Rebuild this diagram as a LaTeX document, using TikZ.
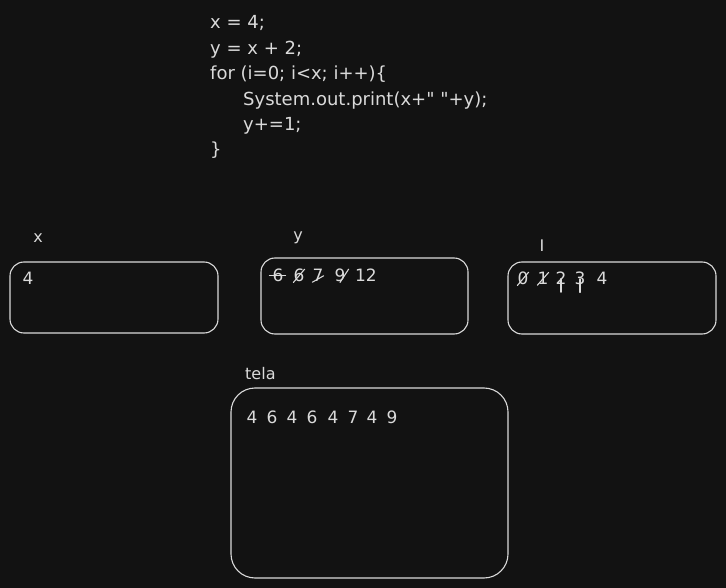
\documentclass[tikz,border=0pt]{standalone}
\usepackage{fontspec}
\newfontfamily\codefont{DejaVu Sans}
\usetikzlibrary{positioning}
\definecolor{bg}{HTML}{121212}
\definecolor{ink}{HTML}{DADADA}
\tikzset{
  box/.style={draw=ink, line width=1.1pt, rounded corners=14pt, inner sep=0pt},
  txt/.style={text=ink, font=\codefont\fontsize{16}{25.3}\selectfont, inner sep=0pt},
  digit/.style={txt, font=\codefont\fontsize{17}{22}\selectfont, anchor=base},
  cross/.style={draw=ink, line width=1.1pt, line cap=round}
}
\begin{document}
\begin{tikzpicture}[x=1pt, y=-1pt]
\fill[bg] (0,0) rectangle (726,588);
\node[txt, font=\codefont\fontsize{18}{25.4}\selectfont, anchor=north west, align=left] (code) at (210,15.5) {x = 4;\\ y = x + 2;\\ for (i=0; i<x; i++)\{\\ \hspace*{33pt}System.out.print(x+" "+y);\\ \hspace*{33pt}y+=1;\\ \}};
\node[box, minimum width=208pt, minimum height=71pt] (xbox) at (114,297.5) {};
\node[box, minimum width=207pt, minimum height=76pt] (ybox) at (364.5,296) {};
\node[box, minimum width=208pt, minimum height=72pt] (ibox) at (612,298) {};
\node[box, rounded corners=24pt, minimum width=277pt, minimum height=190pt] (tela) at (369.5,483) {};
\node[txt] (xlbl) at (38,238) {x};
\node[txt] (ylbl) at (298,238) {y};
\node[txt] (ilbl) at (542,246) {I};
\node[txt, anchor=west] (telalbl) at (245,374) {tela};
\node[digit] (x1) at (28,285) {4};
\foreach \d/\px [count=\k] in {6/278,6/299,7/318,9/340,12/366}
  \node[digit] (y\k) at (\px,282) {\d};
\draw[cross] ([xshift=-3pt]y1.west) -- ([xshift=2pt]y1.east);
\draw[cross] (y2.south west) -- (y2.north east);
\draw[cross] (y3.south west) -- (y3.east);
\draw[cross] (y4.south) -- ([xshift=3pt]y4.north east);
\foreach \d/\px [count=\k] in {0/523,1/543,2/561,3/580,4/602}
  \node[digit] (i\k) at (\px,285) {\d};
\draw[cross] (i1.south west) -- (i1.north east);
\draw[cross] (i2.south west) -- (i2.north east);
\draw[cross] (i3.center) -- ([yshift=-7pt]i3.south);
\draw[cross] (i4.center) -- ([yshift=-7pt]i4.south);
\foreach \d/\px [count=\k] in {4/252,6/272,4/292,6/312,4/333,7/353,4/372,9/392}
  \node[digit] (t\k) at (\px,423) {\d};
\end{tikzpicture}
\end{document}
